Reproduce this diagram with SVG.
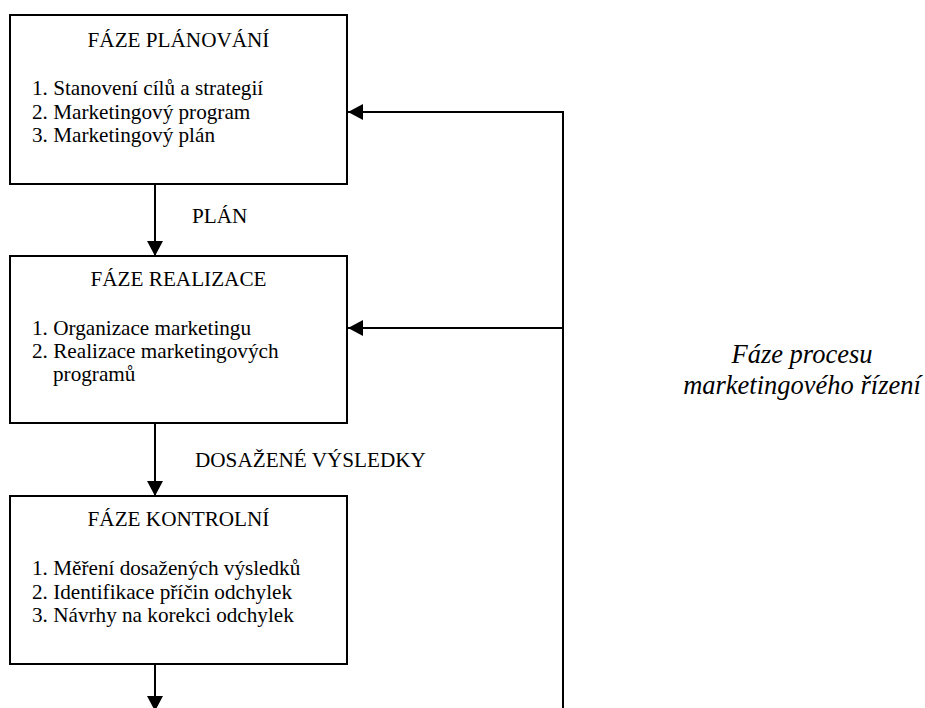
<svg xmlns="http://www.w3.org/2000/svg" width="925" height="708" viewBox="0 0 925 708">
<defs>
<style>
.box{fill:#fff;stroke:#000;stroke-width:2}
.ln{fill:none;stroke:#000;stroke-width:2}
text{font-family:'Liberation Serif','Times New Roman',Times,serif;font-size:21.2px;fill:#000}
.c{text-anchor:middle}
.i{font-style:italic;text-anchor:middle;font-size:26.5px}
</style>
<marker id="ah" markerWidth="15" markerHeight="16" refX="15" refY="8" orient="auto" markerUnits="userSpaceOnUse">
<path d="M0,0 L15,8 L0,16 Z" fill="#000"/>
</marker>
</defs>
<g id="connectors">
<line class="ln" x1="155" y1="184" x2="155" y2="256" marker-end="url(#ah)"/>
<line class="ln" x1="155" y1="423" x2="155" y2="496" marker-end="url(#ah)"/>
<line class="ln" x1="155" y1="664" x2="155" y2="711" marker-end="url(#ah)"/>
<polyline class="ln" points="563,708 563,112 348,112" marker-end="url(#ah)"/>
<line class="ln" x1="563" y1="328" x2="348" y2="328" marker-end="url(#ah)"/>
<text x="192" y="223">PLÁN</text>
<text x="195" y="467">DOSAŽENÉ VÝSLEDKY</text>
</g>
<g id="planovani">
<rect class="box" x="10" y="15" width="337" height="169"/>
<text class="c" x="178.5" y="47">FÁZE PLÁNOVÁNÍ</text>
<text x="32" y="95">1. Stanovení cílů a strategií</text>
<text x="32" y="118.5">2. Marketingový program</text>
<text x="32" y="142">3. Marketingový plán</text>
</g>
<g id="realizace">
<rect class="box" x="10" y="256" width="337" height="167"/>
<text class="c" x="178.5" y="286">FÁZE REALIZACE</text>
<text x="32" y="335">1. Organizace marketingu</text>
<text x="32" y="358">2. Realizace marketingových</text>
<text x="53" y="380.5">programů</text>
</g>
<g id="kontrolni">
<rect class="box" x="10" y="496" width="337" height="168"/>
<text class="c" x="178.5" y="526">FÁZE KONTROLNÍ</text>
<text x="32" y="575">1. Měření dosažených výsledků</text>
<text x="32" y="598.5">2. Identifikace příčin odchylek</text>
<text x="32" y="622">3. Návrhy na korekci odchylek</text>
</g>
<g id="caption">
<text class="i" x="802" y="363">Fáze procesu</text>
<text class="i" x="802" y="394">marketingového řízení</text>
</g>
</svg>
